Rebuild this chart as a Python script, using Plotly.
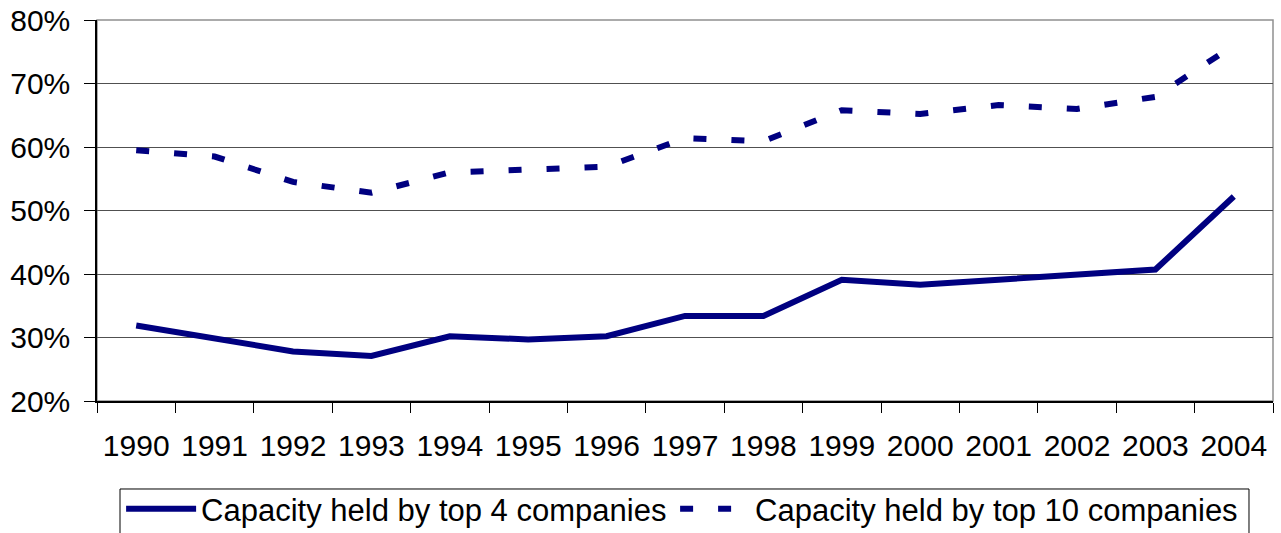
import plotly.graph_objects as go

years = [str(y) for y in range(1990, 2005)]
top4 = [31.9, 29.9, 27.8, 27.1, 30.2, 29.7, 30.2, 33.4, 33.4, 39.1, 38.3, 39.1, 39.9, 40.7, 52.2]
top10 = [59.5, 58.5, 54.5, 52.8, 56.0, 56.4, 56.9, 61.4, 60.9, 65.8, 65.2, 66.6, 66.0, 67.9, 76.0]
names = ["Capacity held by top 4 companies", "Capacity held by top 10 companies"]

NAVY = "#000080"
FONT = "Liberation Sans, Arial, sans-serif"

fig = go.Figure()
fig.add_trace(go.Scatter(x=years, y=[v / 100 for v in top4], mode="lines", name=names[0],
                         line=dict(color=NAVY, width=6), legendwidth=469))
fig.add_trace(go.Scatter(x=years, y=[v / 100 for v in top10], mode="lines", name=names[1],
                         line=dict(color=NAVY, width=6, dash="13px,25px"), legendwidth=489))

fig.update_layout(
    width=1281, height=533,
    margin=dict(l=97, r=8, t=20, b=132, autoexpand=False),
    paper_bgcolor="white", plot_bgcolor="white",
    font=dict(family=FONT, size=30, color="black"),
    showlegend=True,
    legend=dict(orientation="h", x=0.0205, xanchor="left", y=-0.2126, yanchor="top",
                borderwidth=0, bgcolor="rgba(0,0,0,0)", font=dict(size=31),
                itemwidth=70, tracegroupgap=0),
    shapes=[
        dict(type="rect", xref="paper", yref="paper", x0=0, x1=1, y0=0, y1=1,
             line=dict(color="#909090", width=1.5), layer="below"),
        dict(type="rect", xref="paper", yref="paper", x0=0.01956, x1=0.97959,
             y0=-0.23097, y1=-0.45, line=dict(color="black", width=1), layer="below"),
    ],
)
fig.update_xaxes(type="category", range=[-0.5, 14.5], tickson="boundaries",
                 ticks="outside", ticklen=10, tickcolor="black", showline=True,
                 linecolor="black", linewidth=1.5, showgrid=False,
                 tickfont=dict(size=30), ticklabelstandoff=17)
fig.update_yaxes(range=[0.2, 0.8], dtick=0.1, tickformat=".0%", ticks="outside",
                 ticklen=11, tickcolor="black", showline=True, linecolor="black",
                 linewidth=1.5, showgrid=True, gridcolor="#505050", gridwidth=1,
                 zeroline=False, tickfont=dict(size=30), ticklabelstandoff=8,
                 ticklabeloverflow="allow")

fig.write_html("out.html", config={"displayModeBar": False},
               post_script="document.body.style.margin='0px';")
